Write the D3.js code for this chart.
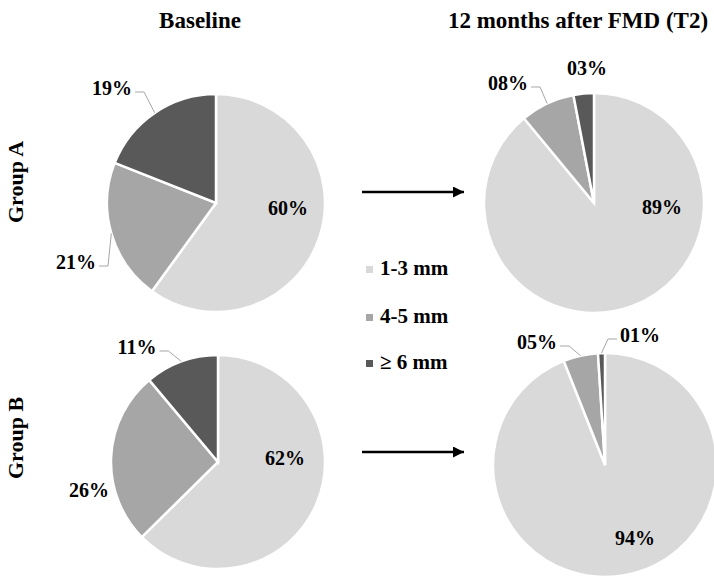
<!DOCTYPE html>
<html>
<head>
<meta charset="utf-8">
<script src="https://cdn.jsdelivr.net/npm/d3@7"></script>
<style>
  html, body { margin: 0; padding: 0; background: #fff; }
  svg { display: block; }
</style>
</head>
<body>
<svg id="chart" width="714" height="576"></svg>
<script>
// ---------------- DATA ----------------
const categories = ["1-3 mm", "4-5 mm", "\u2265 6 mm"];
const columnTitles = ["Baseline", "12 months after FMD (T2)"];
const groupNames = ["Group A", "Group B"];
const groupABaseline = [60, 21, 19];
const groupAT2 = [89, 8, 3];
const groupBBaseline = [62, 26, 11];
const groupBT2 = [94, 5, 1];

// ---------------- STYLE / LAYOUT ----------------
const FONT = "Liberation Serif";
const colors = ["#d9d9d9", "#a6a6a6", "#595959"];
const svg = d3.select("#chart");

function txt(sel) {
  return sel.attr("font-family", FONT).attr("font-weight", "bold").attr("fill", "#000");
}

const pies = [
  { values: groupABaseline, cx: 216, cy: 203, r: 109,
    labels: [{dx: 72, dy: 5}, {dx: -140, dy: 59, lead: true}, {dx: -104, dy: -115, lead: true}] },
  { values: groupAT2, cx: 594, cy: 203, r: 110,
    labels: [{dx: 68, dy: 4}, {dx: -86, dy: -120, lead: true}, {dx: -7, dy: -135}] },
  { values: groupBBaseline, cx: 218, cy: 462, r: 107,
    labels: [{dx: 67, dy: -4}, {dx: -129, dy: 28}, {dx: -81, dy: -115, lead: true}] },
  { values: groupBT2, cx: 605, cy: 465, r: 112,
    labels: [{dx: 30, dy: 73}, {dx: -68, dy: -123, lead: true}, {dx: 35, dy: -130, lead: true}] }
];

const pieGen = d3.pie().sort(null).value(d => d);
const fmt = d3.format("02d");
const labelSize = 20;

pies.forEach(p => {
  const g = svg.append("g").attr("transform", `translate(${p.cx},${p.cy})`);
  const arc = d3.arc().innerRadius(0).outerRadius(p.r);
  const arcs = pieGen(p.values);
  g.selectAll("path.slice").data(arcs).enter().append("path")
    .attr("class", "slice")
    .attr("d", arc)
    .attr("fill", (d, i) => colors[i])
    .attr("stroke", "#fff")
    .attr("stroke-width", 2.5)
    .attr("stroke-linejoin", "miter");

  arcs.forEach((a, i) => {
    const L = p.labels[i];
    const t = txt(g.append("text"))
      .attr("x", L.dx).attr("y", L.dy)
      .attr("dy", "0.35em")
      .attr("text-anchor", "middle")
      .attr("font-size", labelSize)
      .text(fmt(a.data) + "%");
    if (L.lead) {
      const bb = t.node().getBBox();
      const mid = (a.startAngle + a.endAngle) / 2;
      const ex = Math.sin(mid) * p.r, ey = -Math.cos(mid) * p.r;
      const right = ex > L.dx;
      const sx = right ? bb.x + bb.width + 3 : bb.x - 3;
      const sy = L.dy + 4;
      const kx = right ? sx + 9 : sx - 9;
      g.append("polyline")
        .attr("points", [[sx, sy], [kx, sy], [ex, ey]].map(q => q.join(",")).join(" "))
        .attr("fill", "none")
        .attr("stroke", "#a6a6a6")
        .attr("stroke-width", 1);
    }
  });
});

// column titles
const titleX = [200, 578];
columnTitles.forEach((t, i) => {
  txt(svg.append("text"))
    .attr("x", titleX[i]).attr("y", 28)
    .attr("text-anchor", "middle")
    .attr("font-size", 23)
    .text(t);
});

// group labels (rotated)
const groupY = [182, 438];
groupNames.forEach((t, i) => {
  txt(svg.append("text"))
    .attr("transform", `translate(23,${groupY[i]}) rotate(-90)`)
    .attr("text-anchor", "middle")
    .attr("font-size", 22)
    .text(t);
});

// arrows
const defs = svg.append("defs");
defs.append("marker")
  .attr("id", "arrowhead")
  .attr("viewBox", "0 0 10 10")
  .attr("refX", 10).attr("refY", 5)
  .attr("markerUnits", "userSpaceOnUse")
  .attr("markerWidth", 13).attr("markerHeight", 11)
  .attr("orient", "auto")
  .append("path").attr("d", "M0,0 L10,5 L0,10 Z").attr("fill", "#000");

[192, 452].forEach(y => {
  svg.append("line")
    .attr("x1", 362).attr("x2", 464)
    .attr("y1", y).attr("y2", y)
    .attr("stroke", "#000")
    .attr("stroke-width", 2.5)
    .attr("marker-end", "url(#arrowhead)");
});

// legend
const legendY = [275, 323, 369];
const legend = svg.append("g");
categories.forEach((c, i) => {
  legend.append("rect")
    .attr("x", 366).attr("y", legendY[i] - 9)
    .attr("width", 7).attr("height", 7)
    .attr("fill", colors[i]);
  txt(legend.append("text"))
    .attr("x", 380).attr("y", legendY[i])
    .attr("font-size", 21)
    .text(c);
});
</script>
</body>
</html>
